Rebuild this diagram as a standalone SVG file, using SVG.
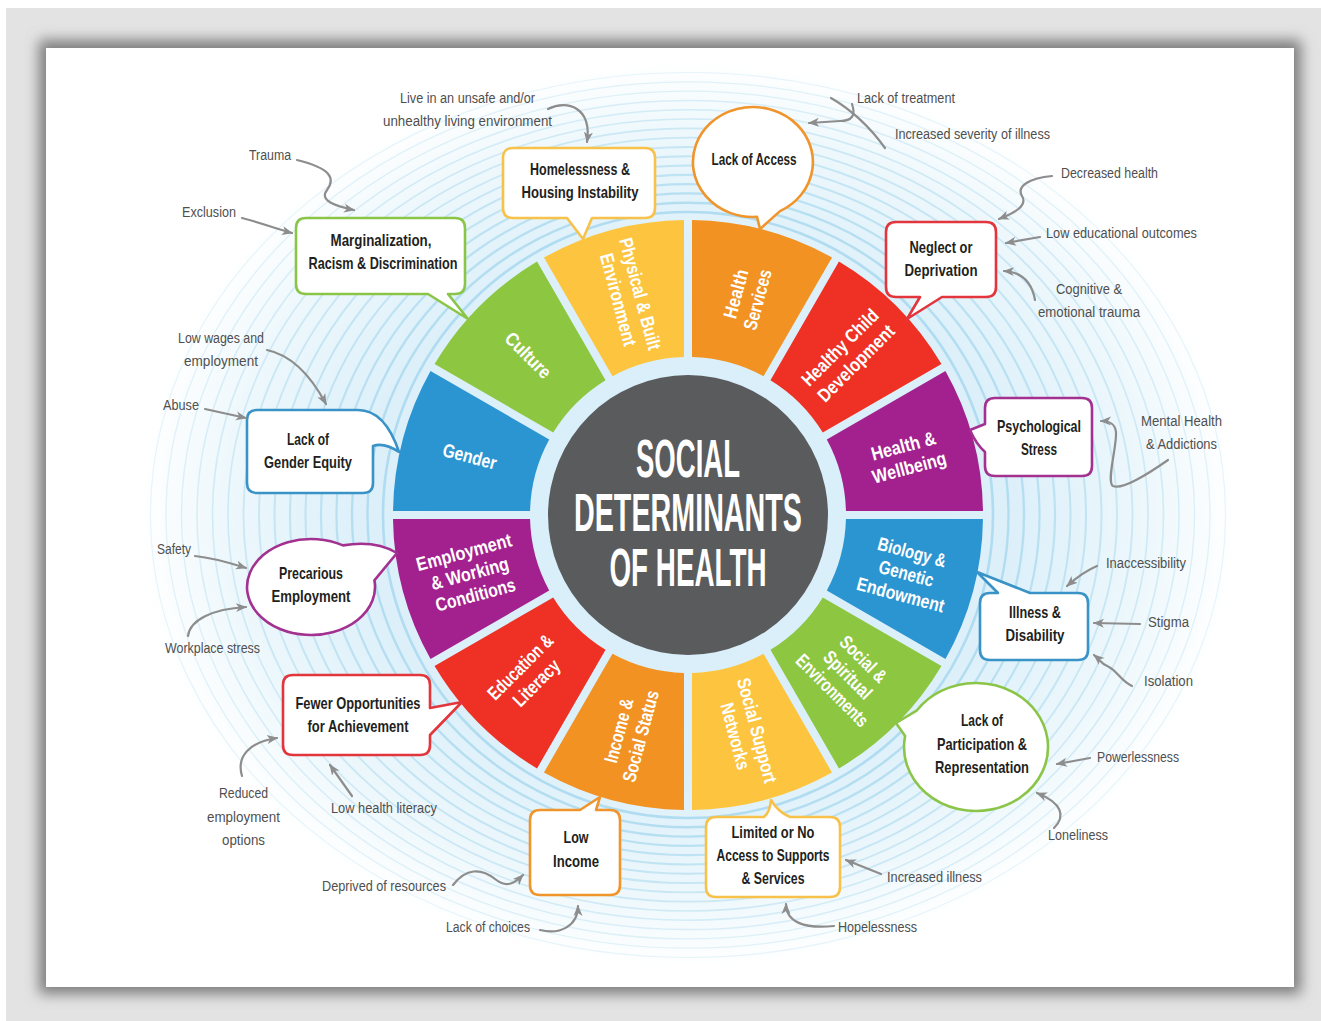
<svg xmlns="http://www.w3.org/2000/svg" xmlns:xlink="http://www.w3.org/1999/xlink" width="1321" height="1021" viewBox="0 0 1321 1021">
  <defs>
    <style>
      .g{font-family:"Liberation Sans Narrow","Liberation Sans",Arial,sans-serif;font-size:15.5px;fill:#4f4f4f}
      .b{font-family:"Liberation Sans Narrow","Liberation Sans",Arial,sans-serif;font-size:16.5px;font-weight:bold;fill:#231f20;text-anchor:middle}
      .w{font-family:"Liberation Sans Narrow","Liberation Sans",Arial,sans-serif;font-size:19px;font-weight:bold;fill:#fff;text-anchor:middle}
      .t{font-family:"Liberation Sans Narrow","Liberation Sans",Arial,sans-serif;font-size:53px;font-weight:bold;fill:#fff;text-anchor:middle}
      .c{fill:#fff;stroke-width:2.6;stroke-linejoin:round}
      .a{fill:none;stroke:#8d8d8d;stroke-width:2.2;stroke-linecap:round;marker-end:url(#ah)}
      .l{fill:none;stroke:#8d8d8d;stroke-width:2.2;stroke-linecap:round}
    </style>
    <filter id="soft" x="-5%" y="-5%" width="110%" height="110%">
      <feGaussianBlur stdDeviation="7"/>
    </filter>
    <radialGradient id="halo" cx="0.5" cy="0.5" r="0.5">
      <stop offset="0" stop-color="#d6eef9"/>
      <stop offset="0.6" stop-color="#ddf0fa"/>
      <stop offset="0.85" stop-color="#eef8fc"/>
      <stop offset="1" stop-color="#ffffff"/>
    </radialGradient>
    <marker id="ah" viewBox="0 0 12 10" refX="10" refY="5" markerWidth="12" markerHeight="10" markerUnits="userSpaceOnUse" orient="auto">
      <path d="M0,0.5 L11,5 L0,9.5 L3,5 Z" fill="#8d8d8d"/>
    </marker>
    <!-- one 30 degree wheel segment (0..30 deg clockwise from top), rotated for the others -->
    <path id="seg" d="M692.0,220.03 A295,295 0 0 1 832.04,257.52 L763.51,376.21 A158,158 0 0 0 692.0,357.05 Z"/>
  </defs>

  <!-- page frame and card -->
  <rect width="1321" height="1021" fill="#ffffff"/>
  <rect x="6" y="8" width="1315" height="1013" fill="#e3e3e3"/>
  <rect x="39" y="40" width="1262" height="954" fill="#7d7d7d" filter="url(#soft)"/>
  <rect x="46" y="48" width="1248" height="939" fill="#ffffff"/>

  <!-- halo rings -->
  <g id="rings">
    <ellipse cx="688" cy="515" rx="548" ry="452" fill="url(#halo)"/>
    <g fill="none" stroke="#a7d8ee">
      <ellipse cx="688" cy="515" rx="305" ry="303" stroke-width="2.6" opacity=".85"/>
      <ellipse cx="688" cy="515" rx="320.5" ry="312.3" stroke-width="2.4" opacity=".8"/>
      <ellipse cx="688" cy="515" rx="336" ry="321.6" stroke-width="2.4" opacity=".75"/>
      <ellipse cx="688" cy="515" rx="351.5" ry="330.9" stroke-width="2.2" opacity=".7"/>
      <ellipse cx="688" cy="515" rx="367" ry="340.2" stroke-width="2.2" opacity=".65"/>
      <ellipse cx="688" cy="515" rx="382.5" ry="349.5" stroke-width="2" opacity=".6"/>
      <ellipse cx="688" cy="515" rx="398" ry="358.8" stroke-width="2" opacity=".58"/>
      <ellipse cx="688" cy="515" rx="413.5" ry="368.1" stroke-width="2" opacity=".55"/>
      <ellipse cx="688" cy="515" rx="429" ry="377.4" stroke-width="1.8" opacity=".52"/>
      <ellipse cx="688" cy="515" rx="444.5" ry="386.7" stroke-width="1.8" opacity=".5"/>
      <ellipse cx="688" cy="515" rx="460" ry="396" stroke-width="1.6" opacity=".46"/>
      <ellipse cx="688" cy="515" rx="475.5" ry="405.3" stroke-width="1.6" opacity=".42"/>
      <ellipse cx="688" cy="515" rx="491" ry="414.6" stroke-width="1.5" opacity=".38"/>
      <ellipse cx="688" cy="515" rx="506.5" ry="423.9" stroke-width="1.4" opacity=".34"/>
      <ellipse cx="688" cy="515" rx="522" ry="433.2" stroke-width="1.3" opacity=".3"/>
      <ellipse cx="688" cy="515" rx="537.5" ry="442.5" stroke-width="1.2" opacity=".26"/>
    </g>
  </g>

  <!-- wheel segments -->
  <g id="seg-health-services">
    <use xlink:href="#seg" fill="#f19223"/>
    <g transform="translate(746.5 296.7) rotate(-75)">
      <text class="w" y="-4.5" textLength="50" lengthAdjust="spacingAndGlyphs">Health</text>
      <text class="w" y="18" textLength="62" lengthAdjust="spacingAndGlyphs">Services</text>
    </g>
  </g>
  <g id="seg-healthy-child">
    <use xlink:href="#seg" fill="#ee3124" transform="rotate(30 688 515)"/>
    <g transform="translate(847.8 355.2) rotate(-45)">
      <text class="w" y="-4.5" textLength="100" lengthAdjust="spacingAndGlyphs">Healthy Child</text>
      <text class="w" y="18" textLength="100" lengthAdjust="spacingAndGlyphs">Development</text>
    </g>
  </g>
  <g id="seg-health-wellbeing">
    <use xlink:href="#seg" fill="#a3218e" transform="rotate(60 688 515)"/>
    <g transform="translate(906.3 456.5) rotate(-15)">
      <text class="w" y="-4.5" textLength="66" lengthAdjust="spacingAndGlyphs">Health &amp;</text>
      <text class="w" y="18" textLength="76" lengthAdjust="spacingAndGlyphs">Wellbeing</text>
    </g>
  </g>
  <g id="seg-biology">
    <use xlink:href="#seg" fill="#2b95d1" transform="rotate(90 688 515)"/>
    <g transform="translate(906.3 573.5) rotate(15)">
      <text class="w" y="-15.5" textLength="70" lengthAdjust="spacingAndGlyphs">Biology &amp;</text>
      <text class="w" y="6.5" textLength="56" lengthAdjust="spacingAndGlyphs">Genetic</text>
      <text class="w" y="28.5" textLength="90" lengthAdjust="spacingAndGlyphs">Endowment</text>
    </g>
  </g>
  <g id="seg-social-spiritual">
    <use xlink:href="#seg" fill="#8dc641" transform="rotate(120 688 515)"/>
    <g transform="translate(847.8 674.8) rotate(45)">
      <text class="w" y="-15.5" textLength="58" lengthAdjust="spacingAndGlyphs">Social &amp;</text>
      <text class="w" y="6.5" textLength="60" lengthAdjust="spacingAndGlyphs">Spiritual</text>
      <text class="w" y="28.5" textLength="94" lengthAdjust="spacingAndGlyphs">Environments</text>
    </g>
  </g>
  <g id="seg-social-support">
    <use xlink:href="#seg" fill="#fdc53f" transform="rotate(150 688 515)"/>
    <g transform="translate(746.5 733.3) rotate(75)">
      <text class="w" y="-4.5" textLength="108" lengthAdjust="spacingAndGlyphs">Social Support</text>
      <text class="w" y="18" textLength="68" lengthAdjust="spacingAndGlyphs">Networks</text>
    </g>
  </g>
  <g id="seg-income">
    <use xlink:href="#seg" fill="#f19223" transform="rotate(180 688 515)"/>
    <g transform="translate(629.5 733.3) rotate(-75)">
      <text class="w" y="-4.5" textLength="66" lengthAdjust="spacingAndGlyphs">Income &amp;</text>
      <text class="w" y="18" textLength="94" lengthAdjust="spacingAndGlyphs">Social Status</text>
    </g>
  </g>
  <g id="seg-education">
    <use xlink:href="#seg" fill="#ee3124" transform="rotate(210 688 515)"/>
    <g transform="translate(528.2 674.8) rotate(-45)">
      <text class="w" y="-4.5" textLength="84" lengthAdjust="spacingAndGlyphs">Education &amp;</text>
      <text class="w" y="18" textLength="58" lengthAdjust="spacingAndGlyphs">Literacy</text>
    </g>
  </g>
  <g id="seg-employment">
    <use xlink:href="#seg" fill="#a3218e" transform="rotate(240 688 515)"/>
    <g transform="translate(469.7 573.5) rotate(-15)">
      <text class="w" y="-15.5" textLength="98" lengthAdjust="spacingAndGlyphs">Employment</text>
      <text class="w" y="6.5" textLength="80" lengthAdjust="spacingAndGlyphs">&amp; Working</text>
      <text class="w" y="28.5" textLength="82" lengthAdjust="spacingAndGlyphs">Conditions</text>
    </g>
  </g>
  <g id="seg-gender">
    <use xlink:href="#seg" fill="#2b95d1" transform="rotate(270 688 515)"/>
    <g transform="translate(469.7 456.5) rotate(15)">
      <text class="w" y="6.5" textLength="55" lengthAdjust="spacingAndGlyphs">Gender</text>
    </g>
  </g>
  <g id="seg-culture">
    <use xlink:href="#seg" fill="#8dc641" transform="rotate(300 688 515)"/>
    <g transform="translate(528.2 355.2) rotate(45)">
      <text class="w" y="6.5" textLength="57" lengthAdjust="spacingAndGlyphs">Culture</text>
    </g>
  </g>
  <g id="seg-physical">
    <use xlink:href="#seg" fill="#fdc53f" transform="rotate(330 688 515)"/>
    <g transform="translate(629.5 296.7) rotate(75)">
      <text class="w" y="-4.5" textLength="115" lengthAdjust="spacingAndGlyphs">Physical &amp; Built</text>
      <text class="w" y="18" textLength="95" lengthAdjust="spacingAndGlyphs">Environment</text>
    </g>
  </g>

  <!-- hub -->
  <g id="hub">
    <circle cx="688" cy="515" r="140" fill="#5a5b5d"/>
    <text class="t" x="688" y="477" textLength="104" lengthAdjust="spacingAndGlyphs">SOCIAL</text>
    <text class="t" x="688" y="531" textLength="228" lengthAdjust="spacingAndGlyphs">DETERMINANTS</text>
    <text class="t" x="688" y="586" textLength="157" lengthAdjust="spacingAndGlyphs">OF HEALTH</text>
  </g>

  <!-- callouts -->
  <g id="call-homelessness">
    <path class="c" stroke="#f8c24a" d="M513,148 H645 Q655,148 655,158 V208 Q655,218 645,218 H592 L583,239 L567,218 H513 Q503,218 503,208 V158 Q503,148 513,148 Z"/>
    <text class="b" x="580" y="175" textLength="100" lengthAdjust="spacingAndGlyphs">Homelessness &amp;</text>
    <text class="b" x="580" y="198" textLength="117" lengthAdjust="spacingAndGlyphs">Housing Instability</text>
  </g>
  <g id="call-lack-of-access">
    <path class="c" stroke="#f0952b" d="M757,216.9 L760,229 L780,211.1 A60,55 0 1 0 757,216.9 Z"/>
    <text class="b" x="754" y="165" textLength="85" lengthAdjust="spacingAndGlyphs">Lack of Access</text>
  </g>
  <g id="call-neglect">
    <path class="c" stroke="#e2353c" d="M896,222 H986 Q996,222 996,232 V287 Q996,297 986,297 H942 L907,319 L920,297 H896 Q886,297 886,287 V232 Q886,222 896,222 Z"/>
    <text class="b" x="941" y="253" textLength="63" lengthAdjust="spacingAndGlyphs">Neglect or</text>
    <text class="b" x="941" y="276" textLength="73" lengthAdjust="spacingAndGlyphs">Deprivation</text>
  </g>
  <g id="call-psychological">
    <path class="c" stroke="#a3318f" d="M995,398 H1082 Q1092,398 1092,408 V466 Q1092,476 1082,476 H995 Q985,476 985,466 V452 Q976,444 970,430 L985,424 V408 Q985,398 995,398 Z"/>
    <text class="b" x="1039" y="432" textLength="84" lengthAdjust="spacingAndGlyphs">Psychological</text>
    <text class="b" x="1039" y="455" textLength="36" lengthAdjust="spacingAndGlyphs">Stress</text>
  </g>
  <g id="call-illness">
    <path class="c" stroke="#3a93c6" d="M990,593 H998 L977,572 L1030,593 H1078 Q1088,593 1088,603 V650 Q1088,660 1078,660 H990 Q980,660 980,650 V603 Q980,593 990,593 Z"/>
    <text class="b" x="1035" y="618" textLength="52" lengthAdjust="spacingAndGlyphs">Illness &amp;</text>
    <text class="b" x="1035" y="641" textLength="59" lengthAdjust="spacingAndGlyphs">Disability</text>
  </g>
  <g id="call-participation">
    <path class="c" stroke="#8bc548" d="M917,710.3 L896,723 L905.1,735.9 A72,64 0 1 0 917,710.3 Z"/>
    <text class="b" x="982" y="726" textLength="42" lengthAdjust="spacingAndGlyphs">Lack of</text>
    <text class="b" x="982" y="750" textLength="90" lengthAdjust="spacingAndGlyphs">Participation &amp;</text>
    <text class="b" x="982" y="773" textLength="94" lengthAdjust="spacingAndGlyphs">Representation</text>
  </g>
  <g id="call-limited-access">
    <path class="c" stroke="#f8c24a" d="M716,817 H764 Q770,812 771,800 Q778,812 790,817 H830 Q840,817 840,827 V887 Q840,897 830,897 H716 Q706,897 706,887 V827 Q706,817 716,817 Z"/>
    <text class="b" x="773" y="838" textLength="83" lengthAdjust="spacingAndGlyphs">Limited or No</text>
    <text class="b" x="773" y="861" textLength="113" lengthAdjust="spacingAndGlyphs">Access to Supports</text>
    <text class="b" x="773" y="884" textLength="63" lengthAdjust="spacingAndGlyphs">&amp; Services</text>
  </g>
  <g id="call-low-income">
    <path class="c" stroke="#f0952b" d="M540,810 H580 L600,797 L596,810 H610 Q620,810 620,820 V885 Q620,895 610,895 H540 Q530,895 530,885 V820 Q530,810 540,810 Z"/>
    <text class="b" x="576" y="843" textLength="25" lengthAdjust="spacingAndGlyphs">Low</text>
    <text class="b" x="576" y="867" textLength="46" lengthAdjust="spacingAndGlyphs">Income</text>
  </g>
  <g id="call-fewer-opportunities">
    <path class="c" stroke="#e2353c" d="M293,675 H420 Q430,675 430,685 V708 L462,702 L430,735 V745 Q430,755 420,755 H293 Q283,755 283,745 V685 Q283,675 293,675 Z"/>
    <text class="b" x="358" y="709" textLength="125" lengthAdjust="spacingAndGlyphs">Fewer Opportunities</text>
    <text class="b" x="358" y="732" textLength="101" lengthAdjust="spacingAndGlyphs">for Achievement</text>
  </g>
  <g id="call-precarious">
    <path class="c" stroke="#a3318f" d="M343,545.4 Q375,540 397,553 L374.4,580.3 A64,48 0 1 1 343,545.4 Z"/>
    <text class="b" x="311" y="579" textLength="64" lengthAdjust="spacingAndGlyphs">Precarious</text>
    <text class="b" x="311" y="602" textLength="79" lengthAdjust="spacingAndGlyphs">Employment</text>
  </g>
  <g id="call-gender-equity">
    <path class="c" stroke="#3a93c6" d="M257,410 H358 Q385,410 399,452 Q384,442 373,446 V483 Q373,493 363,493 H257 Q247,493 247,483 V420 Q247,410 257,410 Z"/>
    <text class="b" x="308" y="445" textLength="42" lengthAdjust="spacingAndGlyphs">Lack of</text>
    <text class="b" x="308" y="468" textLength="88" lengthAdjust="spacingAndGlyphs">Gender Equity</text>
  </g>
  <g id="call-marginalization">
    <path class="c" stroke="#8bc548" d="M306,218 H455 Q465,218 465,228 V284 Q465,294 455,294 H448 L468,319 L428,294 H306 Q296,294 296,284 V228 Q296,218 306,218 Z"/>
    <text class="b" x="381" y="246" textLength="101" lengthAdjust="spacingAndGlyphs">Marginalization,</text>
    <text class="b" x="383" y="269" textLength="149" lengthAdjust="spacingAndGlyphs">Racism &amp; Discrimination</text>
  </g>

  <!-- connectors -->
  <g id="connectors">
    <path class="a" d="M548,109 C568,99 592,108 587,142"/>
    <path class="a" d="M297,160 C330,168 336,178 327,190 C319,200 334,206 354,210"/>
    <path class="a" d="M242,218 C262,223 276,229 292,233"/>
    <path class="l" d="M885,148 Q862,116 831,98"/>
    <path class="a" d="M852,104 Q858,121 840,121 L809,123"/>
    <path class="a" d="M1052,176 C1030,178 1016,186 1022,196 C1028,206 1014,213 999,219"/>
    <path class="a" d="M1040,237 L1006,243"/>
    <path class="a" d="M1035,300 C1032,283 1022,272 1004,271"/>
    <path class="a" d="M1168,460 C1148,474 1122,490 1113,486 C1106,482 1117,447 1116,432 C1115,423 1109,421 1101,421"/>
    <path class="a" d="M1097,566 C1085,571 1076,578 1067,586"/>
    <path class="a" d="M1140,624 L1094,623"/>
    <path class="a" d="M1132,686 C1121,681 1117,671 1109,667 C1101,664 1100,660 1094,655"/>
    <path class="a" d="M1090,758 L1057,764"/>
    <path class="a" d="M1054,828 C1066,816 1062,803 1037,793"/>
    <path class="a" d="M881,874 L846,860"/>
    <path class="a" d="M834,926 C804,929 786,922 786,904"/>
    <path class="a" d="M540,930 C560,935 578,926 578,906"/>
    <path class="a" d="M453,885 C466,868 481,868 495,879 C506,888 514,884 523,875"/>
    <path class="a" d="M352,796 L330,765"/>
    <path class="a" d="M242,776 C236,756 250,742 277,738"/>
    <path class="a" d="M188,636 C190,620 212,609 246,607"/>
    <path class="a" d="M195,556 C215,558 230,563 246,568"/>
    <path class="a" d="M205,409 L246,418"/>
    <path class="a" d="M267,350 C291,355 311,376 326,404"/>
  </g>

  <!-- outer cause labels -->
  <g id="cause-labels">
    <text class="g" x="400" y="103" textLength="135" lengthAdjust="spacingAndGlyphs">Live in an unsafe and/or</text>
    <text class="g" x="383" y="126" textLength="169" lengthAdjust="spacingAndGlyphs">unhealthy living environment</text>
    <text class="g" x="249" y="160" textLength="42" lengthAdjust="spacingAndGlyphs">Trauma</text>
    <text class="g" x="182" y="217" textLength="54" lengthAdjust="spacingAndGlyphs">Exclusion</text>
    <text class="g" x="857" y="103" textLength="98" lengthAdjust="spacingAndGlyphs">Lack of treatment</text>
    <text class="g" x="895" y="139" textLength="155" lengthAdjust="spacingAndGlyphs">Increased severity of illness</text>
    <text class="g" x="1061" y="178" textLength="97" lengthAdjust="spacingAndGlyphs">Decreased health</text>
    <text class="g" x="1046" y="238" textLength="151" lengthAdjust="spacingAndGlyphs">Low educational outcomes</text>
    <text class="g" x="1056" y="294" textLength="66" lengthAdjust="spacingAndGlyphs">Cognitive &amp;</text>
    <text class="g" x="1038" y="317" textLength="102" lengthAdjust="spacingAndGlyphs">emotional trauma</text>
    <text class="g" x="1141" y="426" textLength="81" lengthAdjust="spacingAndGlyphs">Mental Health</text>
    <text class="g" x="1146" y="449" textLength="71" lengthAdjust="spacingAndGlyphs">&amp; Addictions</text>
    <text class="g" x="1106" y="568" textLength="80" lengthAdjust="spacingAndGlyphs">Inaccessibility</text>
    <text class="g" x="1148" y="627" textLength="41" lengthAdjust="spacingAndGlyphs">Stigma</text>
    <text class="g" x="1144" y="686" textLength="49" lengthAdjust="spacingAndGlyphs">Isolation</text>
    <text class="g" x="1097" y="762" textLength="82" lengthAdjust="spacingAndGlyphs">Powerlessness</text>
    <text class="g" x="1048" y="840" textLength="60" lengthAdjust="spacingAndGlyphs">Loneliness</text>
    <text class="g" x="887" y="882" textLength="95" lengthAdjust="spacingAndGlyphs">Increased illness</text>
    <text class="g" x="838" y="932" textLength="79" lengthAdjust="spacingAndGlyphs">Hopelessness</text>
    <text class="g" x="446" y="932" textLength="84" lengthAdjust="spacingAndGlyphs">Lack of choices</text>
    <text class="g" x="322" y="891" textLength="124" lengthAdjust="spacingAndGlyphs">Deprived of resources</text>
    <text class="g" x="331" y="813" textLength="106" lengthAdjust="spacingAndGlyphs">Low health literacy</text>
    <text class="g" x="219" y="798" textLength="49" lengthAdjust="spacingAndGlyphs">Reduced</text>
    <text class="g" x="207" y="822" textLength="73" lengthAdjust="spacingAndGlyphs">employment</text>
    <text class="g" x="222" y="845" textLength="43" lengthAdjust="spacingAndGlyphs">options</text>
    <text class="g" x="165" y="653" textLength="95" lengthAdjust="spacingAndGlyphs">Workplace stress</text>
    <text class="g" x="157" y="554" textLength="34" lengthAdjust="spacingAndGlyphs">Safety</text>
    <text class="g" x="163" y="410" textLength="36" lengthAdjust="spacingAndGlyphs">Abuse</text>
    <text class="g" x="178" y="343" textLength="86" lengthAdjust="spacingAndGlyphs">Low wages and</text>
    <text class="g" x="184" y="366" textLength="74" lengthAdjust="spacingAndGlyphs">employment</text>
  </g>
</svg>
